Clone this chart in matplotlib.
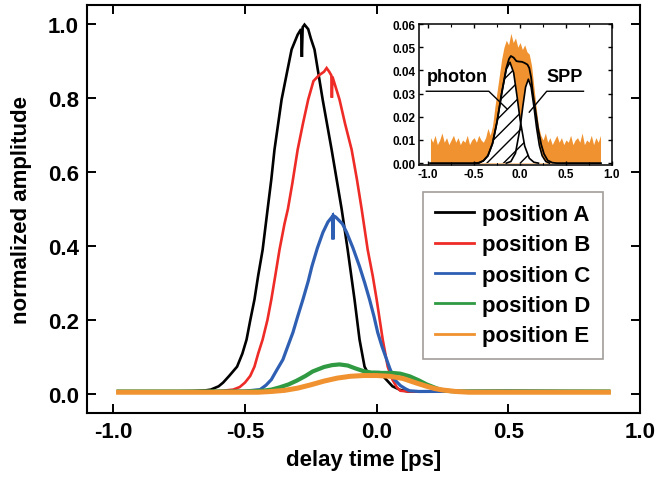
import numpy as np
import matplotlib
matplotlib.use('Agg')
import matplotlib.pyplot as plt
from matplotlib.ticker import MultipleLocator, FormatStrFormatter

plt.rcParams['font.family'] = ['Liberation Sans', 'DejaVu Sans']
plt.rcParams['font.weight'] = 'bold'
plt.rcParams['axes.unicode_minus'] = False
plt.rcParams['hatch.linewidth'] = 1.0

# ---- main panel: delay time [ps] vs normalized amplitude ----
a_x = [-0.98, -0.80, -0.70, -0.65, -0.63, -0.60, -0.583, -0.56, -0.53, -0.51, -0.494, -0.48,
       -0.464, -0.45, -0.433, -0.414, -0.40, -0.388, -0.361, -0.34, -0.323, -0.30, -0.287,
       -0.284, -0.281, -0.274, -0.26, -0.25, -0.236, -0.205, -0.171, -0.133, -0.11, -0.084,
       -0.065, -0.046, -0.034, -0.01, 0.01, 0.03, 0.06, 0.09, 0.12, 0.50, 0.88]
a_y = [0.008, 0.008, 0.009, 0.011, 0.013, 0.022, 0.032, 0.050, 0.075, 0.110, 0.148, 0.200,
       0.256, 0.320, 0.390, 0.500, 0.580, 0.660, 0.795, 0.870, 0.930, 0.970, 0.985,
       0.910, 0.990, 0.997, 0.985, 0.960, 0.930, 0.795, 0.660, 0.500, 0.390, 0.256,
       0.148, 0.075, 0.059, 0.060, 0.060, 0.045, 0.022, 0.012, 0.008, 0.009, 0.008]

b_x = [-0.98, -0.65, -0.60, -0.545, -0.52, -0.50, -0.48, -0.464, -0.45, -0.433, -0.415, -0.40,
       -0.385, -0.369, -0.35, -0.337, -0.32, -0.30, -0.28, -0.26, -0.24, -0.22, -0.20,
       -0.19, -0.18, -0.172, -0.170, -0.168, -0.141, -0.12, -0.095, -0.075, -0.057, -0.034,
       -0.015, 0.0, 0.023, 0.042, 0.06, 0.076, 0.09, 0.12, 0.50, 0.88]
b_y = [0.008, 0.008, 0.009, 0.013, 0.020, 0.032, 0.050, 0.075, 0.110, 0.148, 0.200, 0.256,
       0.320, 0.390, 0.460, 0.500, 0.570, 0.660, 0.730, 0.795, 0.845, 0.860, 0.870,
       0.880, 0.870, 0.860, 0.800, 0.857, 0.795, 0.730, 0.660, 0.580, 0.500, 0.390,
       0.320, 0.256, 0.148, 0.075, 0.040, 0.020, 0.010, 0.008, 0.009, 0.008]

c_x = [-0.98, -0.55, -0.50, -0.443, -0.42, -0.40, -0.38, -0.356, -0.34, -0.318, -0.30, -0.28,
       -0.26, -0.246, -0.225, -0.204, -0.185, -0.168, -0.166, -0.164, -0.155, -0.13, -0.114,
       -0.09, -0.065, -0.045, -0.027, -0.01, 0.004, 0.02, 0.038, 0.05, 0.068, 0.09, 0.11,
       0.125, 0.16, 0.50, 0.88]
c_y = [0.008, 0.008, 0.009, 0.013, 0.025, 0.040, 0.065, 0.094, 0.125, 0.167, 0.210, 0.256,
       0.305, 0.345, 0.395, 0.437, 0.465, 0.480, 0.418, 0.482, 0.478, 0.460, 0.437,
       0.395, 0.345, 0.300, 0.256, 0.210, 0.167, 0.130, 0.094, 0.070, 0.040, 0.024, 0.015,
       0.010, 0.008, 0.009, 0.008]

d_x = [-0.98, -0.50, -0.433, -0.40, -0.369, -0.335, -0.304, -0.27, -0.243, -0.20, -0.17,
       -0.141, -0.11, -0.08, -0.05, -0.02, 0.02, 0.06, 0.09, 0.125, 0.16, 0.19, 0.24, 0.28,
       0.32, 0.88]
d_y = [0.008, 0.008, 0.010, 0.013, 0.019, 0.027, 0.037, 0.050, 0.062, 0.074, 0.079,
       0.081, 0.078, 0.070, 0.063, 0.059, 0.058, 0.058, 0.056, 0.049, 0.038, 0.027, 0.013, 0.009,
       0.008, 0.008]

e_x = [-0.98, -0.45, -0.40, -0.35, -0.30, -0.25, -0.20, -0.15, -0.10, -0.05, 0.0, 0.05, 0.10,
       0.125, 0.15, 0.19, 0.22, 0.25, 0.30, 0.35, 0.88]
e_y = [0.006, 0.006, 0.008, 0.011, 0.017, 0.026, 0.036, 0.044, 0.049, 0.051, 0.051, 0.049, 0.043,
       0.037, 0.031, 0.022, 0.016, 0.012, 0.008, 0.006, 0.006]

labels = ['position A', 'position B', 'position C', 'position D', 'position E']
colors = ['#000000', '#ee2b26', '#2f5fb3', '#2f9a42', '#f0922f']
widths = [1.9, 1.9, 2.3, 3.0, 3.6]

# ---- inset: position E with photon / SPP decomposition ----
ins_x = np.linspace(-0.975, 0.875, 75)
ins_top = [0.011, 0.009, 0.012, 0.008, 0.010, 0.013, 0.009, 0.011, 0.008, 0.010,
           0.012, 0.009, 0.011, 0.008, 0.010, 0.009, 0.012, 0.008, 0.010, 0.011,
           0.009, 0.012, 0.010, 0.009, 0.011, 0.015, 0.012, 0.016, 0.024, 0.031,
           0.038, 0.045, 0.050, 0.053, 0.051, 0.056, 0.052, 0.054, 0.050, 0.052,
           0.049, 0.051, 0.048, 0.047, 0.042, 0.033, 0.024, 0.016, 0.012, 0.010,
           0.013, 0.009, 0.011, 0.008, 0.010, 0.012, 0.009, 0.011, 0.008, 0.010,
           0.009, 0.012, 0.008, 0.010, 0.011, 0.009, 0.013, 0.008, 0.010, 0.009,
           0.012, 0.008, 0.011, 0.009, 0.012]

photon_x = [-0.50, -0.45, -0.40, -0.35, -0.30, -0.25, -0.20, -0.15, -0.11, -0.07, -0.03, 0.0,
            0.05, 0.10, 0.15, 0.20]
photon_y = [0.0, 0.0002, 0.0010, 0.0032, 0.0084, 0.0179, 0.0301, 0.0405, 0.0435, 0.0390,
            0.0279, 0.0188, 0.0074, 0.0021, 0.0004, 0.0]

spp_x = [-0.15, -0.10, -0.05, 0.0, 0.03, 0.06, 0.09, 0.12, 0.15, 0.18, 0.21, 0.24, 0.28, 0.32]
spp_y = [0.0, 0.0007, 0.0043, 0.0151, 0.0245, 0.0328, 0.0362, 0.0328, 0.0245, 0.0151, 0.0076,
         0.0032, 0.0007, 0.0]

fit_x = [-0.98, -0.45, -0.40, -0.35, -0.30, -0.25, -0.20, -0.15, -0.12, -0.10, -0.07, -0.04,
         -0.01, 0.02, 0.05, 0.08, 0.10, 0.12, 0.14, 0.17, 0.20, 0.23, 0.26, 0.30, 0.35, 0.40, 0.88]
fit_y = [0.0, 0.0, 0.0010, 0.0032, 0.0085, 0.0180, 0.0302, 0.0410, 0.0450, 0.0462, 0.0455,
         0.0440, 0.0438, 0.0437, 0.0432, 0.0425, 0.0410, 0.0370, 0.0300, 0.0220, 0.0140,
         0.0080, 0.0040, 0.0012, 0.0002, 0.0, 0.0]


fig = plt.figure(figsize=(6.56, 4.81), dpi=100)
ax = fig.add_axes([0.1326, 0.1393, 0.8430, 0.8482])

series = [(a_x, a_y), (b_x, b_y), (c_x, c_y), (d_x, d_y), (e_x, e_y)]
for (xs, ys), lab, col, lw in zip(series, labels, colors, widths):
    ax.plot(xs, ys, color=col, lw=lw, label=lab, solid_joinstyle='miter')

ax.set_xlim(-1.1, 1.0)
ax.set_ylim(-0.05, 1.05)
ax.xaxis.set_major_locator(MultipleLocator(0.5))
ax.yaxis.set_major_locator(MultipleLocator(0.2))
ax.xaxis.set_major_formatter(FormatStrFormatter('%.1f'))
ax.yaxis.set_major_formatter(FormatStrFormatter('%.1f'))
ax.tick_params(direction='in', length=6.5, width=1.4, top=True, right=True,
               labelsize=16, pad=6)
for s in ax.spines.values():
    s.set_linewidth(1.5)
ax.set_xlabel('delay time [ps]', fontsize=16, fontweight='bold', labelpad=5)
ax.set_ylabel('normalized amplitude', fontsize=16, fontweight='bold', labelpad=11)

leg = ax.legend(loc='upper left', bbox_to_anchor=(0.645, 0.599),
                bbox_transform=fig.transFigure, fontsize=16, frameon=True,
                fancybox=False, handlelength=1.75, handletextpad=0.35,
                labelspacing=0.42, borderpad=0.55, borderaxespad=0)
leg.get_frame().set_edgecolor('#8a8580')
leg.get_frame().set_linewidth(1.2)
for line in leg.get_lines():
    line.set_linewidth(2.0)

# inset
ai = fig.add_axes([0.6387, 0.6549, 0.2942, 0.2931])
ai.fill_between(ins_x, 0, ins_top, color='#f0922f', lw=0, zorder=1)
ai.fill_between(spp_x, 0, spp_y, facecolor='white', lw=0, zorder=2)
ai.fill_between(photon_x, 0, photon_y, facecolor='white', edgecolor='black',
                hatch='//', lw=0, zorder=3)
ai.plot(spp_x, spp_y, color='black', lw=1.2, zorder=4)
ai.plot(photon_x, photon_y, color='black', lw=1.2, zorder=4)
ai.plot(fit_x, fit_y, color='black', lw=1.3, zorder=5)

ai.set_xlim(-1.1, 1.0)
ai.set_ylim(-0.0008, 0.06)
ai.xaxis.set_major_locator(MultipleLocator(0.5))
ai.xaxis.set_minor_locator(MultipleLocator(0.25))
ai.yaxis.set_major_locator(MultipleLocator(0.01))
ai.xaxis.set_major_formatter(FormatStrFormatter('%.1f'))
ai.yaxis.set_major_formatter(FormatStrFormatter('%.2f'))
ai.tick_params(which='both', direction='in', top=True, right=True, labelsize=8.5, pad=2.5)
ai.tick_params(which='major', length=3, width=1.0)
ai.tick_params(which='minor', length=2, width=0.8)
for s in ai.spines.values():
    s.set_linewidth(1.1)

# leader lines for photon / SPP
ai.text(-0.68, 0.0335, 'photon', fontsize=13, fontweight='bold', ha='center', va='bottom', zorder=6)
ai.plot([-1.02, -0.34, -0.14], [0.031, 0.031, 0.0233], color='black', lw=1.0, zorder=6)
ai.text(0.49, 0.0335, 'SPP', fontsize=13, fontweight='bold', ha='center', va='bottom', zorder=6)
ai.plot([0.69, 0.29, 0.10], [0.031, 0.031, 0.022], color='black', lw=1.0, zorder=6)

fig.savefig('out.png', dpi=100)
